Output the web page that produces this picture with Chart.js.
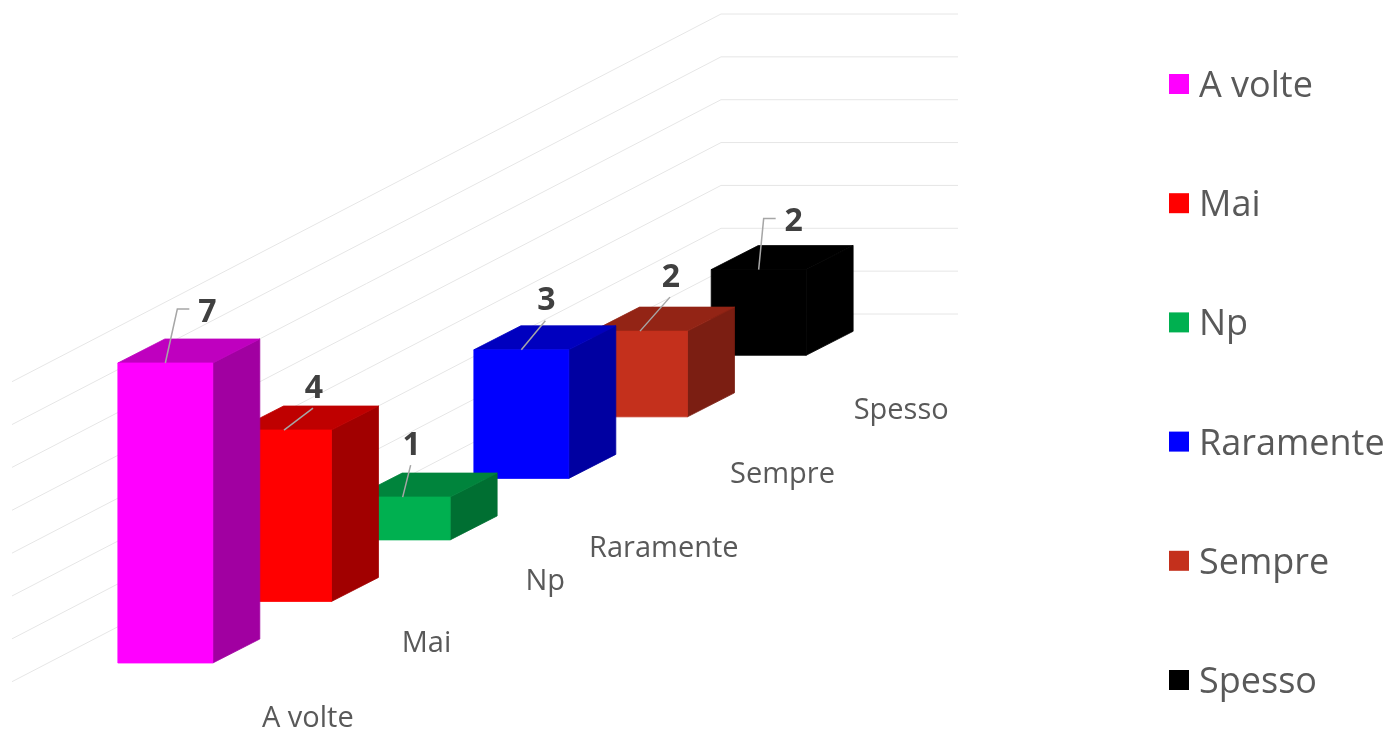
<!DOCTYPE html>
<html>
<head>
<meta charset="utf-8">
<script src="https://cdn.jsdelivr.net/npm/chart.js@4"></script>
<style>
  html, body { margin: 0; padding: 0; background: #fff; }
  #wrap { width: 1385px; height: 730px; }
</style>
</head>
<body>
<div id="wrap"><canvas id="chart"></canvas></div>
<script>
// 3D-look column chart: Chart.js lays the bars out, a plugin paints them as boxes

const categories = ['A volte', 'Mai', 'Np', 'Raramente', 'Sempre', 'Spesso'];
const counts = [7, 4, 1, 3, 2, 2];
const frontColors = ['#ff00ff', '#ff0000', '#00b050', '#0000ff', '#c4301c', '#000000'];
const yTicks = [0, 1, 2, 3, 4, 5, 6, 7];

const FLOOR_SLOPE = 0.5186;            // each bar sits higher the further right it is
const DEPTH = { dx: 47, dy: 24 };      // box depth
const WALL = { left: 12, corner: 721, right: 958, rise: 349 };
const TEXT = '#595959';
const GRID = '#e6e6e6';
const LEADER = '#a6a6a6';

// hand-placed label positions (relative to the front top centre of each box)
const LABEL_OFFSETS = [[42, -53], [30, -44], [9, -54], [25, -51], [31, -56], [35, -50]];
const AXIS_LABEL_NUDGE = [0, -13, -13, 15, 3, 0];
const LEGEND = { box: 20, boxX: 1169, textX: 1199, top: 84, step: 119.2 };

function shade(hex, f) {
  const n = parseInt(hex.slice(1), 16);
  const r = Math.round(((n >> 16) & 255) * f);
  const g = Math.round(((n >> 8) & 255) * f);
  const b = Math.round((n & 255) * f);
  return `rgb(${r},${g},${b})`;
}

// filled face, stroked in its own colour so neighbouring faces don't show seams
function poly(ctx, pts, color) {
  ctx.beginPath();
  ctx.moveTo(pts[0][0], pts[0][1]);
  for (let k = 1; k < pts.length; k++) ctx.lineTo(pts[k][0], pts[k][1]);
  ctx.closePath();
  ctx.fillStyle = color;
  ctx.strokeStyle = color;
  ctx.lineWidth = 0.8;
  ctx.fill();
  ctx.stroke();
}

// front face geometry of bar i, shifted up along the floor
function boxOf(chart, i) {
  const meta = chart.getDatasetMeta(0);
  const first = meta.data[0].getProps(['x'], true).x;
  const p = meta.data[i].getProps(['x', 'y', 'base', 'width'], true);
  const shift = -(p.x - first) * FLOOR_SLOPE;
  return {
    cx: p.x, l: p.x - p.width / 2, r: p.x + p.width / 2,
    top: p.y + shift, bottom: p.base + shift,
  };
}

const boxes3d = {
  id: 'boxes3d',
  beforeDatasetsDraw(chart) {
    const ctx = chart.ctx;
    const y = chart.scales.y;
    const run = WALL.corner - WALL.left;

    // back wall grid
    ctx.save();
    ctx.strokeStyle = GRID;
    ctx.lineWidth = 1;
    yTicks.forEach(v => {
      const py = y.getPixelForValue(v) - WALL.rise;
      ctx.beginPath();
      ctx.moveTo(WALL.left, py + run * FLOOR_SLOPE);
      ctx.lineTo(WALL.corner, py);
      ctx.lineTo(WALL.right, py);
      ctx.stroke();
    });

    // boxes, back to front
    for (let i = counts.length - 1; i >= 0; i--) {
      const b = boxOf(chart, i);
      const c = frontColors[i];
      const dx = DEPTH.dx, dy = DEPTH.dy;
      poly(ctx, [[b.r, b.top], [b.r + dx, b.top - dy], [b.r + dx, b.bottom - dy], [b.r, b.bottom]], shade(c, 0.63));
      poly(ctx, [[b.l, b.top], [b.l + dx, b.top - dy], [b.r + dx, b.top - dy], [b.r, b.top]], shade(c, 0.75));
      poly(ctx, [[b.l, b.top], [b.r, b.top], [b.r, b.bottom], [b.l, b.bottom]], c);
    }
    ctx.restore();
    return false;
  },
  afterDraw(chart) {
    const ctx = chart.ctx;
    ctx.save();

    // value labels with leader lines
    ctx.strokeStyle = LEADER;
    ctx.lineWidth = 1.5;
    ctx.font = 'bold 32px "Open Sans"';
    ctx.fillStyle = '#404040';
    ctx.textAlign = 'center';
    ctx.textBaseline = 'alphabetic';
    counts.forEach((v, i) => {
      const b = boxOf(chart, i);
      const [ox, oy] = LABEL_OFFSETS[i];
      const lx = b.cx + ox, ly = b.top + oy;
      ctx.beginPath();
      ctx.moveTo(b.cx, b.top);
      if (ox > 32) {
        ctx.lineTo(lx - 30, ly - 1);
        ctx.lineTo(lx - 18, ly - 1);
      } else {
        ctx.lineTo(lx - 1, ly + 22);
      }
      ctx.stroke();
      ctx.fillText(String(v), lx, ly + 11.5);
    });

    // category labels along the floor
    ctx.font = '29px "Open Sans"';
    ctx.fillStyle = TEXT;
    categories.forEach((name, i) => {
      const b = boxOf(chart, i);
      ctx.fillText(name, b.cx + 142.5, b.bottom + 53 + AXIS_LABEL_NUDGE[i] + 10.5);
    });

    // legend
    ctx.font = '36px "Open Sans"';
    ctx.textAlign = 'left';
    categories.forEach((name, i) => {
      const cy = LEGEND.top + i * LEGEND.step;
      ctx.fillStyle = frontColors[i];
      ctx.fillRect(LEGEND.boxX, cy - LEGEND.box / 2, LEGEND.box, LEGEND.box);
      ctx.fillStyle = TEXT;
      ctx.fillText(name, LEGEND.textX, cy + 13);
    });
    ctx.restore();
  },
};

new Chart(document.getElementById('chart'), {
  type: 'bar',
  data: {
    labels: categories,
    datasets: [{
      data: counts,
      backgroundColor: frontColors,
      barPercentage: 0.8,
      categoryPercentage: 1,
    }],
  },
  options: {
    responsive: true,
    maintainAspectRatio: false,
    animation: false,
    events: [],
    layout: { padding: { left: 106, right: 567, top: 363, bottom: 67 } },
    scales: {
      x: { type: 'category', offset: true, display: false },
      y: { type: 'linear', min: 0, max: 7, ticks: { stepSize: 1 }, display: false },
    },
    plugins: { legend: { display: false }, tooltip: { enabled: false } },
  },
  plugins: [boxes3d],
});
</script>
</body>
</html>
